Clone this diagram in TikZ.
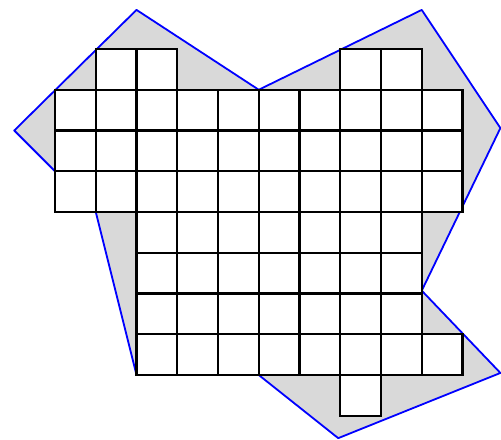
\documentclass[tikz,border=0pt]{standalone}
\usepackage{tikz}

\begin{document}
\begin{tikzpicture}[
  x=20.375pt, y=-20.375pt,
  hull/.style={draw=blue, fill=gray!30, line width=0.9pt, line join=round},
  cell/.style={draw=black, fill=white, line width=1.2pt},
]
\useasboundingbox (-1.35,-1.2025) rectangle (10.945,9.595);
% Hull
\coordinate (hull west) at (-1,2);
\coordinate (hull north1) at (2,-0.96);
\coordinate (hull notch) at (5,1);
\coordinate (hull north2) at (9,-0.96);
\coordinate (hull east1) at (10.93,1.94);
\coordinate (hull dent) at (9,5.93);
\coordinate (hull east2) at (10.93,7.95);
\coordinate (hull south) at (6.95,9.55);
\coordinate (hull foot) at (5,8);
\coordinate (hull heel) at (2,8);
\coordinate (hull waist) at (1,4);
\path[hull] (hull west) -- (hull north1) -- (hull notch) -- (hull north2)
  -- (hull east1) -- (hull dent) -- (hull east2) -- (hull south)
  -- (hull foot) -- (hull heel) -- (hull waist) -- cycle;
% Cells
\foreach \c in {1,2,7,8}
  \draw[cell] (\c,0) rectangle ++(1,1);
\foreach \r in {1,2,3}
  \foreach \c in {0,...,9}
    \draw[cell] (\c,\r) rectangle ++(1,1);
\foreach \r in {4,5,6}
  \foreach \c in {2,...,8}
    \draw[cell] (\c,\r) rectangle ++(1,1);
\foreach \c in {2,...,9}
  \draw[cell] (\c,7) rectangle ++(1,1);
\draw[cell] (7,8) rectangle ++(1,1);
\end{tikzpicture}
\end{document}
